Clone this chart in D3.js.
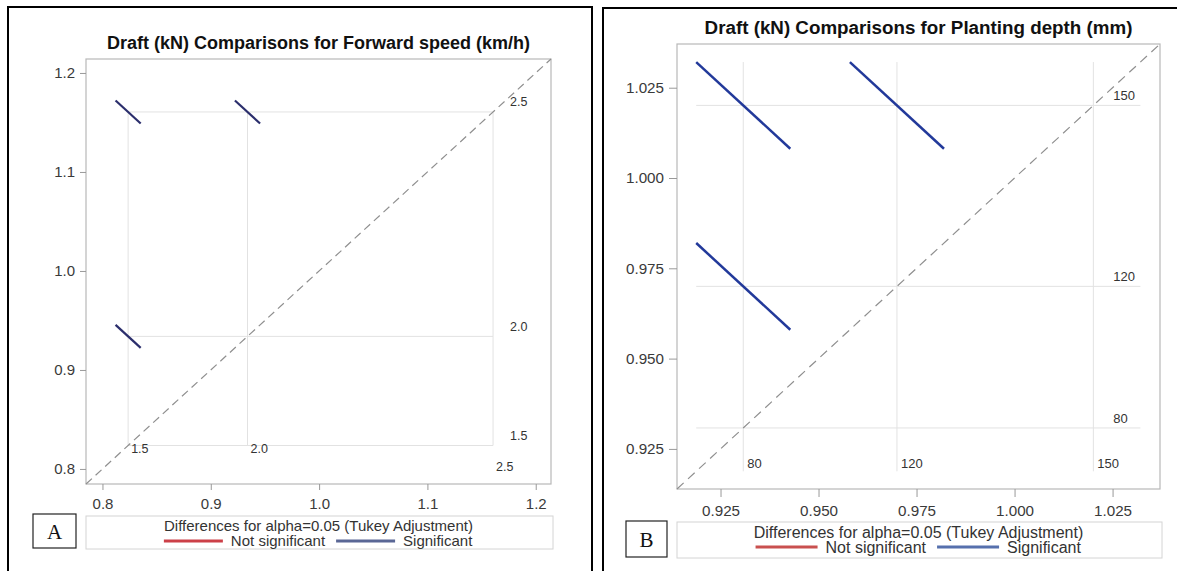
<!DOCTYPE html>
<html><head><meta charset="utf-8">
<script src="https://cdn.jsdelivr.net/npm/d3@7"></script>
<style>body{margin:0;background:#fff} svg{display:block}</style>
</head><body>
<svg id="c" width="1177" height="571"></svg>
<script>
// ---------- DATA ----------
const speedLevels = ["1.5", "2.0", "2.5"];
const speedMeans = [0.8237, 0.9339, 1.1606];
const speedPairsX = ["1.5", "2.0", "1.5"];
const speedPairsY = ["2.5", "2.5", "2.0"];
const speedCIHalf = [0.0232, 0.0232, 0.0232];
const speedSignificant = [true, true, true];
const speedTicks = [0.8, 0.9, 1.0, 1.1, 1.2];
const speedDomain = [0.7848, 1.2141];

const depthLevels = ["80", "120", "150"];
const depthMeans = [0.9308, 0.9700, 1.0201];
const depthPairsX = ["80", "120", "80"];
const depthPairsY = ["150", "150", "120"];
const depthCIHalf = [0.024, 0.024, 0.024];
const depthSignificant = [true, true, true];
const depthTicks = [0.925, 0.950, 0.975, 1.000, 1.025];
const depthDomain = [0.9139, 1.0371];

const titles = ["Draft (kN) Comparisons for Forward speed (km/h)",
                "Draft (kN) Comparisons for Planting depth (mm)"];
const legendTitle = "Differences for alpha=0.05 (Tukey Adjustment)";
const legendItems = ["Not significant", "Significant"];
const panelLetters = ["A", "B"];

// ---------- RENDER ----------
const svg = d3.select("#c");
const FONT = "'Liberation Sans', Arial, sans-serif";

function drawPanel(d, s) {
  const g = svg.append("g");
  g.append("rect").attr("x", s.outer[0]).attr("y", s.outer[1])
    .attr("width", s.outer[2]).attr("height", s.outer[3])
    .attr("fill", "none").attr("stroke", "#000").attr("stroke-width", 2);

  const x = d3.scaleLinear().domain(d.domain).range([s.frame[0], s.frame[1]]);
  const y = d3.scaleLinear().domain(d.domain).range([s.frame[3], s.frame[2]]);
  const meanOf = {};
  d.levels.forEach((l, i) => meanOf[l] = d.means[i]);
  const h = d3.max(d.ciHalf) / 2;
  const mn = d3.min(d.means), mx = d3.max(d.means);
  const pad = s.gridExtend ? h : 0;

  g.append("text").attr("x", (s.frame[0] + s.frame[1]) / 2).attr("y", s.titleY)
    .attr("dy", "0.35em").attr("text-anchor", "middle")
    .attr("font-family", FONT).attr("font-weight", "bold").attr("font-size", s.titleSize)
    .attr("fill", "#111").text(d.title);

  const grid = g.append("g").attr("stroke", "#e2e2e2").attr("stroke-width", 1);
  d.means.forEach(m => {
    grid.append("line").attr("x1", x(m)).attr("x2", x(m))
      .attr("y1", y(mx + pad)).attr("y2", y(mn - pad));
    grid.append("line").attr("y1", y(m)).attr("y2", y(m))
      .attr("x1", x(mn - pad)).attr("x2", x(mx + pad));
  });

  g.append("rect").attr("x", s.frame[0]).attr("y", s.frame[2])
    .attr("width", s.frame[1] - s.frame[0]).attr("height", s.frame[3] - s.frame[2])
    .attr("fill", "none").attr("stroke", "#b8b8b8").attr("stroke-width", 1.2);

  g.append("line").attr("x1", x(d.domain[0])).attr("y1", y(d.domain[0]))
    .attr("x2", x(d.domain[1])).attr("y2", y(d.domain[1]))
    .attr("stroke", "#8f8f8f").attr("stroke-width", 1.2)
    .attr("stroke-dasharray", s.dash);

  d.pairsX.forEach((lx, i) => {
    const mi = meanOf[lx], mj = meanOf[d.pairsY[i]], hh = d.ciHalf[i] / 2;
    g.append("line")
      .attr("x1", x(mi - hh)).attr("y1", y(mj + hh))
      .attr("x2", x(mi + hh)).attr("y2", y(mj - hh))
      .attr("stroke", d.sig[i] ? s.segColor : s.nsColor)
      .attr("stroke-width", s.segWidth).attr("stroke-linecap", "butt");
  });

  const lab = g.append("g").attr("font-family", FONT).attr("font-size", s.labSize).attr("fill", "#333");
  const rightBoxes = [];
  d.levels.forEach((l, i) => {
    const t = lab.append("text").attr("x", x(mx) + s.rightLabDx).attr("y", y(d.means[i]) - s.rightLabDy)
      .attr("dy", "0.35em").text(l);
    rightBoxes.push(t.node().getBBox());
  });
  d.levels.forEach((l, i) => {
    let yy = s.frame[3] - s.bottomLabUp;
    const t = lab.append("text").attr("x", x(d.means[i]) + s.bottomLabDx).attr("y", yy)
      .attr("dy", "0.35em").text(l);
    const b = t.node().getBBox();
    const hit = rightBoxes.some(r => b.x < r.x + r.width && b.x + b.width > r.x &&
      b.y < r.y + r.height && b.y + b.height > r.y);
    if (hit) t.attr("y", yy + 18);
  });

  const fmt = d3.format(d.fmt);
  const ax = g.append("g").attr("transform", `translate(0,${s.frame[3]})`)
    .call(d3.axisBottom(x).tickValues(d.ticks).tickFormat(fmt).tickSize(s.tick).tickPadding(5));
  const ay = g.append("g").attr("transform", `translate(${s.frame[0]},0)`)
    .call(d3.axisLeft(y).tickValues(d.ticks).tickFormat(fmt).tickSize(s.tick).tickPadding(5));
  [ax, ay].forEach(a => {
    a.select(".domain").remove();
    a.selectAll("line").attr("stroke", "#999");
    a.selectAll("text").attr("font-family", FONT).attr("font-size", s.tickFont).attr("fill", "#3a3a3a");
  });
  ax.selectAll("text").attr("dy", "0.9em");

  const lg = s.legend;
  g.append("rect").attr("x", s.frame[0]).attr("y", lg.y0).attr("width", lg.x1 - s.frame[0])
    .attr("height", lg.y1 - lg.y0).attr("fill", "none").attr("stroke", "#d4d4d4");
  const cx = (s.frame[0] + s.frame[1]) / 2;
  g.append("text").attr("x", cx).attr("y", lg.t1).attr("dy", "0.35em").attr("text-anchor", "middle")
    .attr("font-family", FONT).attr("font-size", lg.font).attr("fill", "#333").text(legendTitle);
  const items = g.append("g");
  let cur = 0;
  legendItems.forEach((name, i) => {
    items.append("line").attr("x1", cur).attr("x2", cur + lg.sw).attr("y1", lg.t2).attr("y2", lg.t2)
      .attr("stroke", i === 0 ? lg.red : lg.blue).attr("stroke-width", 2.8);
    cur += lg.sw + 8;
    const t = items.append("text").attr("x", cur).attr("y", lg.t2).attr("dy", "0.35em")
      .attr("font-family", FONT).attr("font-size", lg.font).attr("fill", "#333").text(name);
    cur += t.node().getComputedTextLength() + 11;
  });
  const bw = items.node().getBBox();
  items.attr("transform", `translate(${cx - bw.width / 2},0)`);

  const lb = s.letterBox;
  g.append("rect").attr("x", lb[0]).attr("y", lb[1]).attr("width", lb[2]).attr("height", lb[3])
    .attr("fill", "#fff").attr("stroke", "#222").attr("stroke-width", 1.2);
  g.append("text").attr("x", lb[0] + lb[2] / 2).attr("y", lb[1] + lb[3] / 2).attr("dy", "0.36em")
    .attr("text-anchor", "middle").attr("font-family", "'Liberation Serif', 'Times New Roman', serif")
    .attr("font-size", 21).attr("fill", "#111").text(d.letter);
}

drawPanel({
  levels: speedLevels, means: speedMeans, pairsX: speedPairsX, pairsY: speedPairsY,
  ciHalf: speedCIHalf, sig: speedSignificant, ticks: speedTicks, domain: speedDomain,
  fmt: ".1f", title: titles[0], letter: panelLetters[0]
}, {
  outer: [8, 7, 584, 600], frame: [86, 551, 59, 484], titleY: 43, titleSize: 18,
  gridExtend: false, dash: "8,5", segColor: "#2b2e6c", nsColor: "#c8424a", segWidth: 2.2,
  labSize: 12.5, rightLabDx: 17, rightLabDy: 10, bottomLabDx: 3, bottomLabUp: 35,
  tick: 6, tickFont: 15,
  legend: { x1: 553, y0: 516, y1: 549, t1: 526, t2: 541, font: 15, sw: 59, red: "#cc4048", blue: "#5a6795" },
  letterBox: [33, 514, 43, 34]
});

drawPanel({
  levels: depthLevels, means: depthMeans, pairsX: depthPairsX, pairsY: depthPairsY,
  ciHalf: depthCIHalf, sig: depthSignificant, ticks: depthTicks, domain: depthDomain,
  fmt: ".3f", title: titles[1], letter: panelLetters[1]
}, {
  outer: [603, 8, 600, 600], frame: [677, 1160, 44, 489], titleY: 27, titleSize: 18.8,
  gridExtend: true, dash: "9,6", segColor: "#22399a", nsColor: "#c9504f", segWidth: 2.5,
  labSize: 13, rightLabDx: 20, rightLabDy: 10, bottomLabDx: 4, bottomLabUp: 26,
  tick: 8, tickFont: 15.2,
  legend: { x1: 1162, y0: 522, y1: 558, t1: 532, t2: 547, font: 16, sw: 62, red: "#c9504f", blue: "#5670ad" },
  letterBox: [626, 521, 41, 36]
});
</script>
</body></html>
